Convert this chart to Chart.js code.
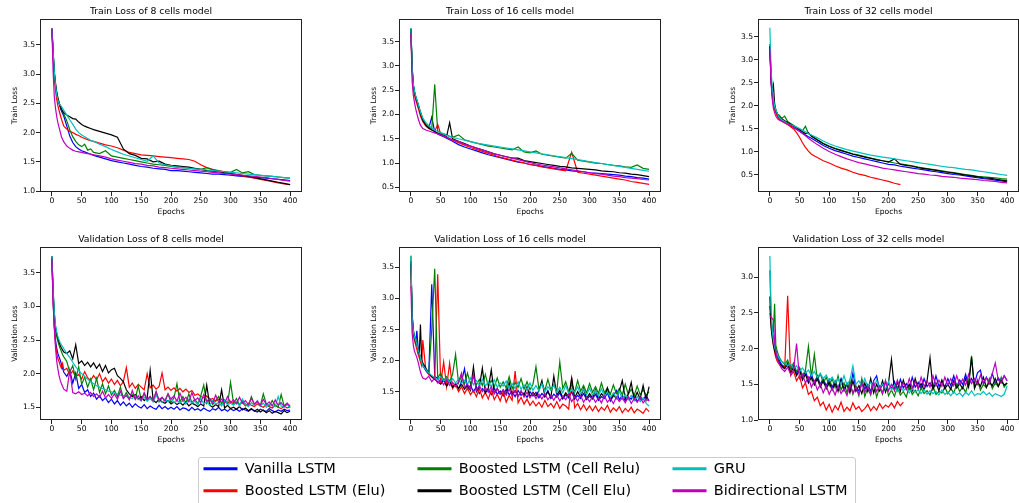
<!DOCTYPE html>
<html>
<head>
<meta charset="utf-8">
<script src="https://cdn.jsdelivr.net/npm/chart.js@4.4.1/dist/chart.umd.min.js"></script>
<style>
  html, body { margin: 0; padding: 0; background: #fff; overflow: hidden; }
  body { width: 1019px; height: 503px; position: relative; }
  canvas { position: absolute; }
  #legendBox { position: absolute; left: 198px; top: 457px; width: 656px; height: 60px; border: 1px solid #cccccc; border-radius: 3px; }
</style>
</head>
<body>
<div id="legendBox"></div>
<canvas id="p1"></canvas>
<canvas id="p2"></canvas>
<canvas id="p3"></canvas>
<canvas id="p4"></canvas>
<canvas id="p5"></canvas>
<canvas id="p6"></canvas>
<canvas id="leg1"></canvas>
<canvas id="leg2"></canvas>
<canvas id="leg3"></canvas>
<script>
var seriesNames = ['Vanilla LSTM', 'Boosted LSTM (Elu)', 'Boosted LSTM (Cell Relu)', 'Boosted LSTM (Cell Elu)', 'GRU', 'Bidirectional LSTM'];
var seriesColors = ['#0000ff', '#ff0000', '#008000', '#000000', '#00bfbf', '#bf00bf'];

var xTicks = [0, 50, 100, 150, 200, 250, 300, 350, 400];
var yTicksTrain8 = [1.0, 1.5, 2.0, 2.5, 3.0, 3.5];
var yTicksTrain16 = [0.5, 1.0, 1.5, 2.0, 2.5, 3.0, 3.5];
var yTicksTrain32 = [0.5, 1.0, 1.5, 2.0, 2.5, 3.0, 3.5];
var yTicksVal8 = [1.5, 2.0, 2.5, 3.0, 3.5];
var yTicksVal16 = [1.5, 2.0, 2.5, 3.0, 3.5];
var yTicksVal32 = [1.0, 1.5, 2.0, 2.5, 3.0];

var trainEpochs = [0,2,4,6,8,10,13,16,20,25,30,35,40,45,50,55,60,65,70,80,90,100,110,120,130,140,150,160,170,180,190,200,
  210,220,230,240,250,260,270,280,290,300,310,320,330,340,350,360,370,380,390,400];
var valEpochs = [0,2,4,6,8,10,12,14,16,18,20,
  25,30,35,40,45,50,55,60,65,70,75,80,85,90,95,100,
  105,110,115,120,125,130,135,140,145,150,155,160,165,170,175,180,185,190,195,200,
  205,210,215,220,225,230,235,240,245,250,255,260,265,270,275,280,285,290,295,300,
  305,310,315,320,325,330,335,340,345,350,355,360,365,370,375,380,385,390,395,400];

// train loss, 8 cells
var train8Vanilla = [3.78,3.35,3.00,2.80,2.66,2.56,2.46,2.37,2.28,2.11,1.94,1.83,1.76,1.72,1.69,1.67,1.65,1.63,1.61,
  1.58,1.55,1.52,1.50,1.48,1.46,1.44,1.42,1.41,1.39,1.38,1.37,1.35,
  1.35,1.34,1.33,1.32,1.31,1.30,1.29,1.29,1.28,1.27,1.26,1.25,1.24,1.23,1.23,1.22,1.21,1.20,1.19,1.18];
var train8Elu = [3.78,3.30,2.95,2.72,2.57,2.46,2.34,2.23,2.11,2.06,2.02,2.00,1.97,1.95,1.92,1.90,1.88,1.86,1.85,
  1.82,1.79,1.77,1.74,1.70,1.66,1.64,1.62,1.61,1.60,1.59,1.58,1.57,
  1.56,1.55,1.54,1.51,1.45,1.40,1.37,1.35,1.33,1.30,1.28,1.26,1.24,1.22,1.20,1.18,1.16,1.14,1.12,1.11];
var train8CellRelu = [3.78,3.38,3.02,2.82,2.68,2.58,2.48,2.40,2.32,2.20,2.05,1.93,1.85,1.79,1.76,1.80,1.70,1.72,1.66,
  1.64,1.69,1.60,1.58,1.56,1.54,1.52,1.50,1.48,1.46,1.45,1.44,1.42,
  1.41,1.40,1.39,1.38,1.37,1.40,1.36,1.34,1.33,1.32,1.37,1.31,1.33,1.28,1.27,1.26,1.25,1.24,1.23,1.22];
var train8CellElu = [3.78,3.40,3.05,2.85,2.70,2.60,2.48,2.40,2.34,2.30,2.27,2.24,2.23,2.18,2.14,2.11,2.09,2.07,2.05,
  2.02,1.99,1.96,1.92,1.72,1.64,1.61,1.56,1.55,1.50,1.51,1.46,1.44,
  1.43,1.42,1.41,1.39,1.37,1.35,1.34,1.33,1.31,1.30,1.28,1.27,1.25,1.23,1.21,1.19,1.17,1.15,1.13,1.11];
var train8Gru = [3.78,3.40,3.05,2.82,2.66,2.56,2.48,2.45,2.38,2.30,2.22,2.14,2.06,2.00,1.96,1.93,1.90,1.87,1.85,
  1.80,1.76,1.71,1.67,1.63,1.60,1.57,1.54,1.51,1.60,1.48,1.45,1.43,
  1.41,1.40,1.39,1.38,1.37,1.36,1.35,1.34,1.33,1.32,1.31,1.30,1.29,1.28,1.27,1.26,1.25,1.24,1.23,1.22];
var train8Bi = [3.78,3.05,2.62,2.42,2.28,2.17,2.05,1.93,1.84,1.77,1.73,1.70,1.68,1.67,1.66,1.65,1.64,1.63,1.62,
  1.60,1.58,1.55,1.53,1.51,1.49,1.47,1.46,1.44,1.43,1.41,1.40,1.39,
  1.38,1.37,1.36,1.35,1.34,1.33,1.32,1.31,1.30,1.29,1.28,1.27,1.26,1.25,1.24,1.23,1.21,1.20,1.18,1.17];

// train loss, 16 cells
var train16Vanilla = [3.75,2.95,2.60,2.45,2.35,2.28,2.15,2.02,1.88,1.78,1.72,1.94,1.64,1.60,1.57,1.54,1.51,1.48,1.45,
  1.38,1.33,1.29,1.25,1.21,1.17,1.14,1.11,1.08,1.05,1.02,1.00,0.97,
  0.95,0.93,0.91,0.89,0.87,0.86,0.84,0.83,0.82,0.80,0.79,0.78,0.77,0.76,0.75,0.73,0.72,0.70,0.69,0.67];
var train16Elu = [3.72,2.90,2.55,2.40,2.30,2.22,2.10,1.97,1.85,1.76,1.71,1.68,1.65,1.80,1.60,1.56,1.53,1.50,1.47,
  1.42,1.37,1.32,1.28,1.24,1.20,1.16,1.12,1.09,1.06,1.03,1.00,0.97,
  0.95,0.92,0.90,0.88,0.86,0.84,1.22,0.81,0.79,0.77,0.75,0.73,0.71,0.69,0.67,0.65,0.62,0.60,0.58,0.56];
var train16CellRelu = [3.78,3.00,2.62,2.48,2.38,2.30,2.18,2.05,1.92,1.82,1.76,1.70,2.62,1.66,1.62,1.60,1.58,1.55,1.53,
  1.58,1.48,1.44,1.41,1.38,1.35,1.33,1.31,1.29,1.27,1.33,1.23,1.21,
  1.25,1.18,1.16,1.14,1.12,1.10,1.20,1.06,1.04,1.02,1.00,0.99,0.97,0.95,0.94,0.92,0.91,0.96,0.89,0.87];
var train16CellElu = [3.76,2.98,2.60,2.46,2.36,2.28,2.16,2.03,1.88,1.78,1.72,1.68,1.65,1.62,1.59,1.57,1.55,1.83,1.50,
  1.45,1.40,1.35,1.31,1.27,1.23,1.19,1.16,1.13,1.10,1.10,1.05,1.03,
  1.01,0.99,0.97,0.95,0.93,0.92,0.90,0.89,0.88,0.87,0.86,0.84,0.83,0.82,0.80,0.79,0.77,0.76,0.74,0.72];
var train16Gru = [3.78,3.00,2.62,2.48,2.38,2.30,2.18,2.05,1.92,1.83,1.77,1.72,1.68,1.65,1.62,1.60,1.57,1.55,1.53,
  1.50,1.47,1.44,1.41,1.39,1.37,1.35,1.33,1.31,1.29,1.27,1.25,1.23,
  1.21,1.19,1.17,1.15,1.13,1.11,1.09,1.07,1.05,1.03,1.01,0.99,0.97,0.95,0.93,0.91,0.89,0.87,0.85,0.83];
var train16Bi = [3.68,2.70,2.40,2.25,2.12,2.02,1.88,1.78,1.71,1.68,1.66,1.64,1.62,1.60,1.58,1.56,1.53,1.51,1.48,
  1.44,1.39,1.35,1.31,1.27,1.23,1.19,1.16,1.13,1.10,1.07,1.04,1.01,
  0.98,0.96,0.94,0.92,0.90,0.88,0.86,0.84,0.82,0.80,0.78,0.77,0.75,0.73,0.72,0.70,0.69,0.68,0.66,0.65];

// train loss, 32 cells
var train32Vanilla = [3.30,2.55,2.25,2.05,1.95,1.87,1.78,1.72,1.68,1.64,1.60,1.57,1.53,1.49,1.45,1.41,1.37,1.33,1.30,
  1.22,1.14,1.08,1.03,0.99,0.95,0.91,0.88,0.85,0.82,0.79,0.76,0.73,
  0.72,0.69,0.67,0.65,0.63,0.61,0.59,0.57,0.55,0.53,0.51,0.50,0.48,0.46,0.44,0.42,0.41,0.39,0.37,0.35];
var train32Elu = [3.30,2.55,2.22,2.02,1.92,1.85,1.77,1.71,1.67,1.63,1.60,1.55,1.50,1.42,1.32,1.20,1.10,1.02,0.95,
  0.88,0.81,0.76,0.70,0.65,0.61,0.56,0.52,0.49,0.45,0.42,0.39,0.36,
  0.32,0.29,null,null,null,null,null,null,null,null,null,null,null,null,null,null,null,null,null,null];
var train32CellRelu = [3.35,2.65,2.30,2.10,1.98,1.90,1.82,1.80,1.73,1.78,1.66,1.62,1.58,1.54,1.50,1.46,1.56,1.40,1.36,
  1.27,1.19,1.13,1.08,1.04,1.00,0.96,0.93,0.90,0.87,0.84,0.81,0.79,
  0.76,0.74,0.72,0.70,0.67,0.65,0.63,0.61,0.59,0.57,0.55,0.53,0.51,0.49,0.47,0.46,0.45,0.44,0.42,0.41];
var train32CellElu = [3.30,2.60,2.30,2.45,2.05,1.92,1.82,1.76,1.72,1.68,1.64,1.60,1.56,1.52,1.48,1.44,1.40,1.42,1.34,
  1.26,1.18,1.12,1.07,1.03,0.99,0.95,0.92,0.89,0.86,0.83,0.81,0.78,
  0.85,0.73,0.71,0.69,0.66,0.64,0.62,0.60,0.58,0.56,0.54,0.52,0.50,0.48,0.46,0.44,0.43,0.41,0.39,0.37];
var train32Gru = [3.70,2.80,2.40,2.15,2.00,1.92,1.82,1.75,1.70,1.66,1.62,1.59,1.57,1.54,1.51,1.47,1.44,1.40,1.37,
  1.31,1.24,1.18,1.13,1.09,1.05,1.02,0.99,0.96,0.93,0.91,0.89,0.87,
  0.85,0.83,0.81,0.79,0.77,0.75,0.73,0.71,0.69,0.67,0.66,0.64,0.62,0.61,0.59,0.57,0.55,0.53,0.51,0.49];
var train32Bi = [3.25,2.50,2.15,1.95,1.85,1.78,1.72,1.69,1.67,1.64,1.61,1.58,1.54,1.50,1.45,1.40,1.35,1.30,1.25,
  1.16,1.08,1.01,0.95,0.90,0.85,0.81,0.77,0.74,0.71,0.68,0.65,0.63,
  0.61,0.59,0.57,0.55,0.53,0.52,0.50,0.49,0.47,0.46,0.45,0.43,0.42,0.41,0.40,0.38,0.37,0.36,0.34,0.33];

// validation loss, 8 cells
var val8Vanilla = [3.72,3.10,2.70,2.50,2.38,2.30,2.25,2.20,2.14,2.08,2.02,
  1.96,2.05,1.86,2.01,1.78,1.84,1.72,1.76,1.66,1.71,1.62,1.67,1.60,1.64,1.57,1.62,
  1.55,1.60,1.53,1.58,1.52,1.56,1.50,1.55,1.51,1.49,1.54,1.48,1.52,1.49,1.47,1.53,1.48,1.51,1.47,1.50,
  1.47,1.51,1.46,1.49,1.48,1.45,1.50,1.46,1.48,1.45,1.49,1.46,1.44,1.48,1.46,1.50,1.45,1.47,1.44,1.48,
  1.45,1.47,1.44,1.48,1.46,1.44,1.47,1.45,1.43,1.47,1.45,1.44,1.48,1.45,1.43,1.46,1.44,1.47,1.45,1.46];
var val8Elu = [3.70,3.10,2.70,2.45,2.30,2.22,2.18,2.12,2.08,2.15,2.05,
  2.08,1.98,2.04,1.95,1.99,1.92,2.03,1.94,1.90,1.97,1.91,2.00,1.88,1.94,1.86,1.92,
  1.84,1.90,1.82,1.88,2.09,1.80,1.86,1.78,1.84,1.80,1.76,2.00,1.79,1.83,1.77,1.81,2.01,1.76,1.80,1.75,
  1.79,1.74,1.78,1.73,1.77,1.72,1.75,1.68,1.70,1.66,1.64,1.67,1.61,1.63,1.59,1.62,1.57,1.60,1.56,1.59,
  1.55,1.58,1.54,1.57,1.52,1.56,1.53,1.51,1.55,1.52,1.50,1.54,1.51,1.49,1.53,1.50,1.48,1.52,1.49,1.50];
var val8CellRelu = [3.72,3.20,2.85,2.65,2.55,2.48,2.42,2.37,2.33,2.28,2.25,
  2.18,2.02,2.12,1.92,2.10,1.84,1.95,1.80,1.92,1.76,1.93,1.72,1.85,1.70,1.82,1.68,
  1.75,1.66,1.80,1.64,1.72,1.63,1.69,1.62,1.82,1.61,1.70,1.60,1.66,1.59,1.73,1.58,1.64,1.60,1.70,1.57,
  1.64,1.85,1.58,1.66,1.56,1.70,1.57,1.62,1.55,1.67,1.83,1.56,1.63,1.54,1.60,1.66,1.55,1.61,1.54,1.87,
  1.56,1.63,1.53,1.60,1.55,1.52,1.66,1.54,1.58,1.52,1.70,1.55,1.51,1.60,1.53,1.50,1.69,1.52,1.56,1.50];
var val8CellElu = [3.75,3.25,2.90,2.70,2.60,2.53,2.47,2.42,2.38,2.35,2.32,
  2.30,2.34,2.22,2.43,2.15,2.19,2.12,2.17,2.10,2.16,2.08,2.14,2.03,2.12,2.01,2.06,
  2.08,1.97,1.93,1.88,1.76,1.70,1.66,1.69,1.62,1.66,1.60,1.64,2.05,1.61,1.57,1.62,1.58,1.56,1.60,1.55,
  1.58,1.54,1.57,1.53,1.58,1.52,1.56,1.54,1.51,1.55,1.52,1.83,1.53,1.50,1.54,1.51,1.76,1.49,1.53,1.48,
  1.50,1.47,1.51,1.46,1.49,1.45,1.48,1.44,1.47,1.43,1.46,1.42,1.45,1.41,1.44,1.42,1.40,1.45,1.42,1.44];
var val8Gru = [3.75,3.25,2.92,2.72,2.62,2.55,2.50,2.46,2.43,2.40,2.37,
  2.30,2.24,2.17,2.10,2.05,2.00,1.96,1.92,1.88,1.85,1.82,1.80,1.78,1.76,1.74,1.73,
  1.71,1.70,1.68,1.67,1.66,1.65,1.63,1.67,1.62,1.60,1.65,1.59,1.63,1.58,1.68,1.60,1.57,1.62,1.58,1.64,
  1.57,1.61,1.56,1.60,1.55,1.62,1.56,1.59,1.54,1.63,1.55,1.58,1.53,1.60,1.55,1.57,1.52,1.61,1.54,1.56,
  1.53,1.58,1.52,1.62,1.54,1.51,1.57,1.53,1.60,1.52,1.56,1.50,1.55,1.53,1.51,1.66,1.52,1.50,1.54,1.49];
var val8Bi = [3.70,3.05,2.69,2.39,2.19,2.07,1.97,1.90,1.85,1.81,1.77,
  1.74,2.05,1.72,1.70,1.73,1.69,1.71,1.67,1.72,1.66,1.70,1.65,1.74,1.64,1.69,1.63,
  1.70,1.62,1.74,1.63,1.68,1.61,1.75,1.62,1.67,1.60,1.72,1.62,1.66,1.60,1.73,1.61,1.65,1.59,1.70,1.62,
  1.67,1.59,1.71,1.60,1.65,1.58,1.72,1.60,1.64,1.57,1.69,1.59,1.63,1.56,1.68,1.58,1.62,1.56,1.66,1.57,
  1.61,1.55,1.65,1.56,1.60,1.54,1.63,1.55,1.59,1.53,1.62,1.54,1.58,1.52,1.61,1.53,1.57,1.51,1.56,1.52];

// validation loss, 16 cells
var val16Vanilla = [3.55,2.70,2.45,2.38,2.30,2.48,2.22,2.12,2.05,1.98,1.92,
  1.84,1.78,3.23,1.74,1.72,1.64,1.70,1.60,1.68,1.57,1.63,1.55,1.66,1.87,1.54,1.60,
  1.50,1.58,1.47,1.55,1.49,1.53,1.45,1.56,1.46,1.51,1.43,1.54,1.45,1.50,1.42,1.52,1.44,1.48,1.41,1.50,
  1.43,1.49,1.40,1.47,1.42,1.52,1.39,1.46,1.41,1.48,1.38,1.45,1.40,1.50,1.38,1.44,1.39,1.47,1.37,1.43,
  1.38,1.46,1.36,1.42,1.39,1.48,1.35,1.43,1.52,1.37,1.44,1.35,1.41,1.38,1.46,1.34,1.42,1.37,1.44,1.35];
var val16Elu = [3.50,2.65,2.42,2.32,2.25,2.18,2.10,2.05,1.98,1.92,2.33,
  1.85,1.78,1.74,1.70,3.39,1.63,1.98,1.58,1.96,1.55,1.62,1.50,1.58,1.47,1.56,1.45,
  1.52,1.42,1.55,1.40,1.49,1.38,1.53,1.37,1.46,1.35,1.50,1.33,1.44,1.36,1.83,1.32,1.41,1.30,1.38,1.28,
  1.35,1.27,1.33,1.25,1.36,1.26,1.31,1.24,1.34,1.23,1.30,1.27,1.22,1.72,1.24,1.31,1.21,1.29,1.20,1.27,
  1.19,1.27,1.18,1.25,1.20,1.28,1.17,1.24,1.19,1.26,1.16,1.23,1.18,1.25,1.16,1.22,1.19,1.15,1.23,1.18];
var val16CellRelu = [3.69,2.75,2.50,2.40,2.35,2.28,2.20,2.12,2.05,1.98,1.92,
  1.86,1.80,2.50,3.48,1.72,1.80,1.68,1.74,1.66,1.78,2.10,1.64,1.75,1.62,1.80,1.63,
  1.74,1.61,1.70,1.60,1.78,1.59,1.68,1.58,1.72,1.57,1.66,1.56,1.74,1.55,1.65,1.57,1.71,1.54,1.66,1.53,
  1.62,1.90,1.54,1.64,1.52,1.70,1.53,1.61,1.51,1.98,1.55,1.66,1.50,1.62,1.49,1.68,1.51,1.60,1.48,1.63,
  1.49,1.58,1.47,1.64,1.48,1.56,1.46,1.61,1.47,1.55,1.45,1.62,1.46,1.54,1.44,1.59,1.45,1.53,1.44,1.50];
var val16CellElu = [3.60,2.75,2.48,2.36,2.30,2.25,2.18,2.10,2.58,2.02,1.96,
  1.88,1.80,1.74,1.70,1.66,1.62,1.68,1.59,1.66,1.57,1.63,1.55,1.62,1.54,1.60,1.52,
  1.90,1.50,1.58,1.88,1.48,1.56,1.85,1.47,1.55,1.46,1.53,1.45,1.65,1.44,1.52,1.43,1.50,1.44,1.58,1.42,
  1.49,1.43,1.52,1.68,1.42,1.50,1.41,1.75,1.44,1.52,1.40,1.48,1.42,1.72,1.40,1.50,1.41,1.55,1.39,1.47,
  1.40,1.53,1.38,1.47,1.41,1.56,1.37,1.45,1.39,1.51,1.68,1.38,1.46,1.65,1.37,1.49,1.38,1.60,1.37,1.58];
var val16Gru = [3.68,2.72,2.48,2.38,2.32,2.26,2.18,2.12,2.05,1.98,1.92,
  1.86,1.80,1.76,1.73,1.69,1.74,1.67,1.72,1.65,1.71,1.64,1.70,1.63,1.68,1.62,1.72,
  1.61,1.68,1.60,1.70,1.59,1.66,1.58,1.69,1.57,1.64,1.59,1.67,1.56,1.63,1.55,1.66,1.54,1.61,1.53,1.64,
  1.52,1.60,1.51,1.63,1.50,1.58,1.52,1.61,1.49,1.57,1.48,1.60,1.47,1.55,1.49,1.58,1.46,1.54,1.45,1.56,
  1.44,1.52,1.43,1.55,1.42,1.50,1.41,1.48,1.40,1.51,1.38,1.46,1.37,1.44,1.36,1.42,1.34,1.40,1.31,1.27];
var val16Bi = [3.20,2.45,2.25,2.15,2.10,2.05,1.98,1.90,1.82,1.76,1.72,
  1.70,1.75,1.66,1.72,1.64,1.68,1.61,1.70,1.60,1.65,1.58,1.66,1.80,1.57,1.62,1.54,
  1.78,1.52,1.60,1.50,1.57,1.49,1.58,1.47,1.55,1.46,1.53,1.45,1.54,1.43,1.51,1.42,1.52,1.41,1.49,1.40,
  1.48,1.39,1.46,1.38,1.47,1.37,1.44,1.36,1.45,1.35,1.43,1.37,1.46,1.34,1.42,1.35,1.44,1.33,1.41,1.34,
  1.42,1.33,1.40,1.32,1.43,1.33,1.39,1.31,1.41,1.34,1.40,1.32,1.42,1.31,1.39,1.33,1.41,1.32,1.38,1.35];

// validation loss, 32 cells
var val32Vanilla = [2.60,2.40,2.25,2.15,2.05,1.98,1.92,1.88,1.84,1.80,1.78,
  1.74,1.80,1.70,1.76,1.66,1.72,1.60,1.68,1.56,1.64,1.52,1.62,1.50,1.58,1.48,1.57,
  1.46,1.55,1.44,1.58,1.43,1.52,1.42,1.66,1.45,1.41,1.56,1.43,1.50,1.40,1.55,1.62,1.42,1.50,1.41,1.52,
  1.44,1.54,1.42,1.57,1.45,1.51,1.43,1.60,1.46,1.53,1.44,1.58,1.47,1.52,1.45,1.62,1.47,1.55,1.46,1.58,
  1.48,1.62,1.47,1.56,1.50,1.64,1.48,1.58,1.51,1.66,1.70,1.50,1.60,1.52,1.65,1.51,1.59,1.53,1.62,1.55];
var val32Elu = [2.50,2.35,2.20,2.05,1.95,1.88,1.83,1.80,1.78,1.76,1.74,
  1.72,2.74,1.62,1.68,1.55,1.62,1.45,1.52,1.36,1.40,1.27,1.32,1.20,1.25,1.14,1.22,
  1.11,1.20,1.14,1.25,1.12,1.18,1.13,1.24,1.15,1.19,1.12,1.16,1.22,1.13,1.19,1.14,1.23,1.16,1.21,1.18,
  1.24,1.17,1.26,1.20,1.25,null,null,null,null,null,null,null,null,null,null,null,null,null,null,null,
  null,null,null,null,null,null,null,null,null,null,null,null,null,null,null,null,null,null,null,null];
var val32CellRelu = [3.10,2.45,2.30,2.25,2.63,2.05,1.98,1.92,1.88,1.85,1.82,
  1.78,1.84,1.72,1.80,1.68,1.74,1.62,1.70,2.03,1.60,1.92,1.56,1.65,1.52,1.60,1.48,
  1.58,1.45,1.62,1.42,1.52,1.38,1.55,1.36,1.48,1.34,1.58,1.33,1.45,1.35,1.52,1.32,1.46,1.36,1.55,1.34,
  1.42,1.33,1.46,1.35,1.40,1.32,1.48,1.36,1.42,1.34,1.45,1.37,1.41,1.35,1.47,1.36,1.40,1.38,1.46,1.37,
  1.44,1.38,1.50,1.40,1.46,1.39,1.52,1.90,1.44,1.56,1.42,1.50,1.45,1.58,1.44,1.52,1.47,1.60,1.46,1.52];
var val32CellElu = [2.73,2.30,2.15,2.05,1.98,1.92,1.88,1.84,1.80,1.78,1.76,
  1.72,1.78,1.66,1.74,1.62,1.70,1.56,1.64,1.52,1.60,1.49,1.58,1.46,1.55,1.44,1.53,
  1.42,1.52,1.40,1.56,1.41,1.50,1.38,1.55,1.40,1.48,1.37,1.52,1.40,1.58,1.38,1.50,1.41,1.55,1.39,1.52,
  1.85,1.42,1.53,1.40,1.56,1.43,1.50,1.41,1.58,1.44,1.51,1.42,1.55,1.87,1.43,1.52,1.41,1.56,1.44,1.50,
  1.43,1.55,1.45,1.51,1.44,1.58,1.46,1.88,1.45,1.54,1.47,1.60,1.46,1.53,1.48,1.58,1.47,1.55,1.49,1.52];
var val32Gru = [3.30,2.55,2.25,2.12,2.02,1.96,1.92,1.89,1.86,1.84,1.82,
  1.80,1.76,1.79,1.72,1.76,1.68,1.73,1.66,1.70,1.62,1.68,1.60,1.65,1.58,1.63,1.55,
  1.60,1.52,1.58,1.50,1.62,1.49,1.56,1.76,1.50,1.55,1.47,1.58,1.46,1.53,1.45,1.56,1.44,1.51,1.43,1.54,
  1.42,1.49,1.40,1.47,1.41,1.45,1.38,1.44,1.39,1.42,1.37,1.43,1.36,1.41,1.37,1.40,1.35,1.42,1.36,1.39,
  1.34,1.40,1.35,1.38,1.33,1.39,1.35,1.41,1.34,1.37,1.36,1.40,1.35,1.38,1.33,1.37,1.35,1.33,1.36,1.48];
var val32Bi = [2.45,2.45,2.42,2.40,2.10,1.95,1.88,1.82,1.78,1.75,1.72,
  1.68,1.74,1.64,1.70,2.07,1.58,1.64,1.52,1.60,1.46,1.55,1.42,1.50,1.38,1.48,1.36,
  1.45,1.35,1.48,1.37,1.44,1.34,1.50,1.38,1.46,1.36,1.52,1.39,1.47,1.37,1.53,1.40,1.48,1.38,1.55,1.41,
  1.50,1.42,1.56,1.44,1.52,1.43,1.58,1.45,1.54,1.44,1.60,1.47,1.55,1.46,1.62,1.48,1.56,1.47,1.60,1.49,
  1.58,1.48,1.62,1.50,1.57,1.49,1.64,1.51,1.58,1.50,1.63,1.52,1.59,1.51,1.65,1.80,1.56,1.52,1.62,1.55];

var fontFamily = "'DejaVu Sans', sans-serif";

var panels = [
  { id: 'p1', left: 40, top: 19, w: 262, h: 173, title: 'Train Loss of 8 cells model', yTitle: 'Train Loss',
    epochs: trainEpochs, yMin: 0.983, yMax: 3.945, yTicks: yTicksTrain8,
    values: [train8Vanilla, train8Elu, train8CellRelu, train8CellElu, train8Gru, train8Bi] },
  { id: 'p2', left: 399, top: 19, w: 262, h: 173, title: 'Train Loss of 16 cells model', yTitle: 'Train Loss',
    epochs: trainEpochs, yMin: 0.403, yMax: 3.968, yTicks: yTicksTrain16,
    values: [train16Vanilla, train16Elu, train16CellRelu, train16CellElu, train16Gru, train16Bi] },
  { id: 'p3', left: 758, top: 19, w: 261, h: 173, title: 'Train Loss of 32 cells model', yTitle: 'Train Loss',
    epochs: trainEpochs, yMin: 0.13, yMax: 3.891, yTicks: yTicksTrain32,
    values: [train32Vanilla, train32Elu, train32CellRelu, train32CellElu, train32Gru, train32Bi] },
  { id: 'p4', left: 40, top: 247, w: 262, h: 173, title: 'Validation Loss of 8 cells model', yTitle: 'Validation Loss',
    epochs: valEpochs, yMin: 1.311, yMax: 3.883, yTicks: yTicksVal8,
    values: [val8Vanilla, val8Elu, val8CellRelu, val8CellElu, val8Gru, val8Bi] },
  { id: 'p5', left: 399, top: 247, w: 262, h: 173, title: 'Validation Loss of 16 cells model', yTitle: 'Validation Loss',
    epochs: valEpochs, yMin: 1.044, yMax: 3.829, yTicks: yTicksVal16,
    values: [val16Vanilla, val16Elu, val16CellRelu, val16CellElu, val16Gru, val16Bi] },
  { id: 'p6', left: 758, top: 247, w: 261, h: 173, title: 'Validation Loss of 32 cells model', yTitle: 'Validation Loss',
    epochs: valEpochs, yMin: 1.0, yMax: 3.425, yTicks: yTicksVal32,
    values: [val32Vanilla, val32Elu, val32CellRelu, val32CellElu, val32Gru, val32Bi] }
];

// matplotlib-style box around the plot area
var framePlugin = {
  id: 'frame',
  afterDatasetsDraw: function (chart) {
    var a = chart.chartArea, ctx = chart.ctx;
    ctx.save();
    ctx.strokeStyle = '#222';
    ctx.lineWidth = 1;
    ctx.strokeRect(Math.round(a.left) + 0.5, Math.round(a.top) + 0.5,
      Math.round(a.right - a.left) - 1, Math.round(a.bottom - a.top) - 1);
    ctx.restore();
  }
};

panels.forEach(function (p) {
  var canvas = document.getElementById(p.id);
  canvas.width = 40 + p.w + 6;
  canvas.height = 19 + p.h + 26;
  canvas.style.left = (p.left - 40) + 'px';
  canvas.style.top = (p.top - 19) + 'px';

  var datasets = p.values.map(function (vals, i) {
    return {
      label: seriesNames[i],
      data: p.epochs.map(function (e, k) { return { x: e, y: vals[k] }; }),
      borderColor: seriesColors[i],
      backgroundColor: seriesColors[i],
      borderWidth: 1.2,
      pointRadius: 0,
      tension: 0,
      spanGaps: false,
      order: 6 - i
    };
  });

  var tickFont = { family: fontFamily, size: 7.6, lineHeight: '9px' };

  new Chart(canvas, {
    type: 'line',
    data: { datasets: datasets },
    plugins: [framePlugin],
    options: {
      responsive: false,
      animation: false,
      layout: { padding: { left: 0, right: 6, top: 0, bottom: 0 } },
      plugins: {
        legend: { display: false },
        tooltip: { enabled: false },
        title: {
          display: true,
          text: p.title,
          color: '#000',
          font: { family: fontFamily, size: 9.3, weight: 'normal', lineHeight: '11px' },
          padding: { top: 6, bottom: 2 }
        }
      },
      scales: {
        x: {
          type: 'linear',
          min: -20,
          max: 420,
          afterBuildTicks: function (axis) { axis.ticks = xTicks.map(function (v) { return { value: v }; }); },
          afterFit: function (scale) { scale.height = 26; },
          ticks: { color: '#000', font: tickFont, padding: 1, maxRotation: 0, autoSkip: false,
            callback: function (v) { return String(v); } },
          grid: { drawOnChartArea: false, drawTicks: true, tickLength: 4, color: '#222' },
          border: { display: false },
          title: { display: true, text: 'Epochs', color: '#000', font: tickFont, padding: { top: 0, bottom: 1 } }
        },
        y: {
          type: 'linear',
          min: p.yMin,
          max: p.yMax,
          afterBuildTicks: function (axis) { axis.ticks = p.yTicks.map(function (v) { return { value: v }; }); },
          afterFit: function (scale) { scale.width = 40; },
          ticks: { color: '#000', font: tickFont, padding: 1, autoSkip: false,
            callback: function (v) { return Number(v).toFixed(1); } },
          grid: { drawOnChartArea: false, drawTicks: true, tickLength: 4, color: '#222' },
          border: { display: false },
          title: { display: true, text: p.yTitle, color: '#000', font: tickFont, padding: { top: 11, bottom: 0 } }
        }
      }
    }
  });
});

// legend: three columns of two entries, like the figure legend
var legendColumns = [
  { id: 'leg1', left: 196, items: [0, 1] },
  { id: 'leg2', left: 410, items: [2, 3] },
  { id: 'leg3', left: 665, items: [4, 5] }
];

legendColumns.forEach(function (c) {
  var canvas = document.getElementById(c.id);
  canvas.width = 500;
  canvas.height = 60;
  canvas.style.left = c.left + 'px';
  canvas.style.top = '454px';
  new Chart(canvas, {
    type: 'line',
    data: {
      datasets: c.items.map(function (i) {
        return { label: seriesNames[i], data: [], borderColor: seriesColors[i], backgroundColor: seriesColors[i], borderWidth: 0 };
      })
    },
    options: {
      responsive: false,
      animation: false,
      layout: { padding: 0 },
      scales: { x: { display: false }, y: { display: false } },
      plugins: {
        tooltip: { enabled: false },
        legend: {
          position: 'left',
          align: 'start',
          labels: { boxWidth: 34, boxHeight: 3, padding: 7.5, color: '#000',
            font: { family: fontFamily, size: 14.5 } }
        }
      }
    }
  });
});
</script>
</body>
</html>
